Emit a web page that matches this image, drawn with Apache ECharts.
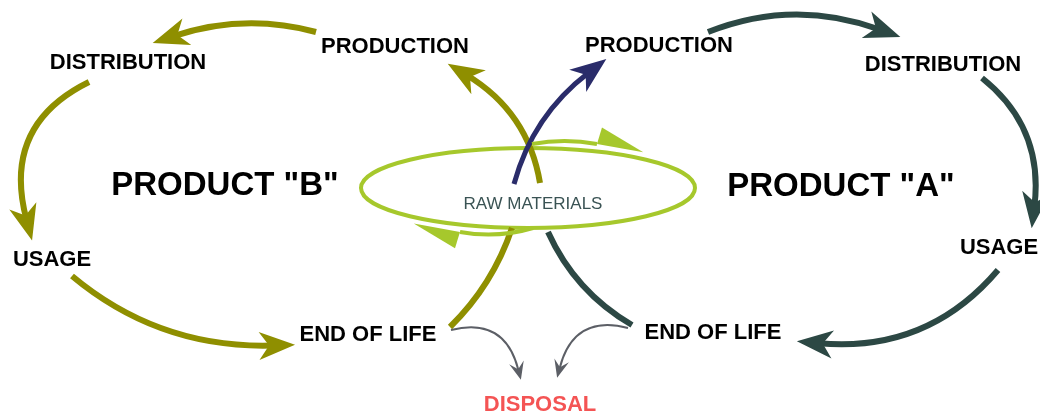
<!DOCTYPE html>
<html>
<head>
<meta charset="utf-8">
<script src="https://cdn.jsdelivr.net/npm/echarts@6/dist/echarts.min.js"></script>
<style>
html, body { margin: 0; padding: 0; background: #fff; }
#main { width: 1040px; height: 416px; }
</style>
</head>
<body>
<div id="main"></div>
<script>
// labels of the two life cycles (x/y in the 1040x416 diagram space)
const nodeText = ['PRODUCTION', 'DISTRIBUTION', 'USAGE', 'END OF LIFE',
                  'PRODUCTION', 'DISTRIBUTION', 'USAGE', 'END OF LIFE',
                  'PRODUCT "B"', 'PRODUCT "A"', 'RAW MATERIALS', 'DISPOSAL'];
const nodeX = [395, 128, 52, 368, 659, 943, 999, 713, 225, 841, 533, 540];
const nodeY = [47, 63, 260, 335, 46, 65, 248, 333, 186, 187, 204, 405];
const nodeKind = ['step', 'step', 'step', 'step', 'step', 'step', 'step', 'step',
                  'title', 'title', 'source', 'sink'];

// flows: start point, end (arrow tip), bend, which flow it belongs to
const edgeStart = [[316, 32], [89, 82], [72, 276], [540, 183], [450, 327],
                   [708, 32], [982, 78], [998, 270], [548, 232],
                   [514, 184], [451, 330], [628, 328], [532, 144], [533, 228]];
const edgeEnd = [[153, 44], [34, 240], [295, 344], [447, 65], [512, 228],
                 [900, 38], [1030, 228], [797, 340], [632, 325],
                 [607, 60], [520, 380], [558, 378], [597, 144], [460, 232]];
const edgeBend = [-0.15, -0.41, -0.19, -0.23, -0.12,
                  0.19, 0.28, 0.26, -0.16,
                  0.17, 0.5, -0.5, 0.09, 0.12];
const edgeKind = ['B', 'B', 'B', 'B', 'Bend', 'A', 'A', 'A', 'Aend',
                  'raw', 'waste', 'waste', 'loop', 'loop'];

// raw materials ring: cx, cy, rx, ry
const ring = [528, 188, 167, 40];

const heads = {
    big: { path: 'path://M0,0 L-14,36 L0,26 L14,36 Z M0,44 L0,44', size: [28, 44], back: 22 },
    small: { path: 'path://M0,0 L-7.5,18 L0,11 L7.5,18 Z M0,20 L0,20', size: [15, 20], back: 10 },
    harpoon: { path: 'path://M0,0 L0,47 L-17,45 Z M17,94 L17,94', size: [34, 94], back: 0 }
};

const kindStyle = {
    B: { color: '#8f8f00', width: 6, head: 'big' },
    Bend: { color: '#8f8f00', width: 6, head: null },
    A: { color: '#2c4844', width: 6, head: 'big' },
    Aend: { color: '#2c4844', width: 6, head: null },
    raw: { color: '#2a2c6a', width: 5, head: 'big' },
    waste: { color: '#5c5f66', width: 2, head: 'small' },
    loop: { color: '#a6c82c', width: 4, head: 'harpoon' }
};

const labelStyle = {
    step: { fontSize: 22, fontWeight: 'bold', color: '#000' },
    title: { fontSize: 33, fontWeight: 'bold', color: '#000' },
    source: { fontSize: 17, fontWeight: 'normal', color: '#3a5354' },
    sink: { fontSize: 22, fontWeight: 'bold', color: '#f45454' }
};

// pull the end back so the arrow body (not its centre) sits on the tip
function anchorEnd(p0, p1, c, back) {
    if (!back) return p1;
    const dx = p1[0] - p0[0], dy = p1[1] - p0[1];
    const cp = [(p0[0] + p1[0]) / 2 + c * dy, (p0[1] + p1[1]) / 2 - c * dx];
    const tx = p1[0] - cp[0], ty = p1[1] - cp[1];
    const l = Math.hypot(tx, ty);
    return [p1[0] - back * tx / l, p1[1] - back * ty / l];
}

const groups = {};
edgeStart.forEach((p0, i) => {
    const st = kindStyle[edgeKind[i]];
    const head = st.head ? heads[st.head] : null;
    let c = edgeBend[i];
    let coords = [p0, anchorEnd(p0, edgeEnd[i], c, head ? head.back : 0)];
    let pos = 'end';
    if (c < 0) {
        // echarts only bends lines for positive curveness -> flip direction
        coords = [coords[1], coords[0]];
        c = -c;
        pos = 'start';
    }
    const key = (st.head || 'none') + '|' + pos;
    if (!groups[key]) groups[key] = { head: head, pos: pos, data: [] };
    groups[key].data.push({
        coords: coords,
        lineStyle: { color: st.color, width: st.width, curveness: c, opacity: 1 }
    });
});

const series = [];
Object.keys(groups).forEach(key => {
    const g = groups[key];
    let symbol = ['none', 'none'];
    let symbolSize = [[1, 1], [1, 1]];
    if (g.head) {
        symbol = g.pos === 'end' ? ['none', g.head.path] : [g.head.path, 'none'];
        symbolSize = [g.head.size, g.head.size];
    }
    series.push({
        type: 'lines',
        coordinateSystem: 'cartesian2d',
        silent: true,
        z: 3,
        symbol: symbol,
        symbolSize: symbolSize,
        lineStyle: { cap: 'butt' },
        data: g.data
    });
});

series.push({
    type: 'scatter',
    silent: true,
    z: 5,
    symbolSize: 1,
    itemStyle: { color: 'rgba(255,255,255,0)', opacity: 1 },
    data: nodeText.map((t, i) => ({
        name: t,
        value: [nodeX[i], nodeY[i]],
        label: Object.assign({
            show: true,
            position: 'inside',
            formatter: '{b}',
            opacity: 1,
            textBorderWidth: 0,
            fontFamily: 'Liberation Sans, Arial, sans-serif'
        }, labelStyle[nodeKind[i]])
    }))
});

const chart = echarts.init(document.getElementById('main'), null, { renderer: 'canvas' });
chart.setOption({
    backgroundColor: '#fff',
    animation: false,
    grid: { left: 0, right: 0, top: 0, bottom: 0 },
    xAxis: { type: 'value', min: 0, max: 1040, show: false },
    yAxis: { type: 'value', min: 0, max: 416, inverse: true, show: false },
    series: series
});

const c = chart.convertToPixel({ gridIndex: 0 }, [ring[0], ring[1]]);
const e = chart.convertToPixel({ gridIndex: 0 }, [ring[0] + ring[2], ring[1] + ring[3]]);
chart.setOption({
    graphic: [{
        type: 'ellipse',
        z: 1,
        silent: true,
        shape: { cx: c[0], cy: c[1], rx: e[0] - c[0], ry: e[1] - c[1] },
        style: { fill: 'none', stroke: '#a6c82c', lineWidth: 4 }
    }]
});
</script>
</body>
</html>
